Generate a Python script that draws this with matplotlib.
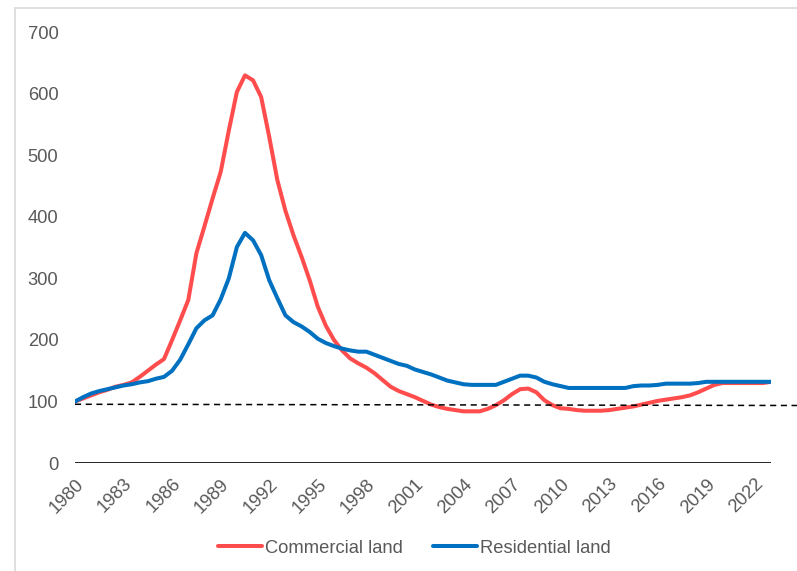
import numpy as np
import matplotlib
matplotlib.use("Agg")
import matplotlib.pyplot as plt
from matplotlib.patches import Rectangle

plt.rcParams['font.family'] = ['Liberation Sans', 'DejaVu Sans']

# half-year index values, 1980 = 100 (two readings per year)
commercial = [
	100, 105,  110, 115,  119, 124,  127, 131,  140, 150,   # 1980-84
	160, 169,  200, 232,  265, 341,  385, 430,  473, 540,   # 1985-89
	603, 630,  622, 595,  530, 460,  410, 370,  335, 297,   # 1990-94
	254, 223,  200, 183,  170, 162,  155, 146,  135, 124,   # 1995-99
	117, 112,  107, 101,   95,  91,   88,  86,   84,  84,   # 2000-04
	 84,  88,   94, 102,  112, 120,  121, 115,  102,  94,   # 2005-09
	 89,  88,   86,  85,   85,  85,   86,  88,   90,  92,   # 2010-14
	 95,  98,  101, 103,  105, 107,  110, 115,  121, 127,   # 2015-19
	130, 130,  130, 130,  130, 130,  132,                   # 2020-23
]
residential = [
	100, 107,  113, 117,  120, 123,  126, 128,  131, 133,
	137, 140,  150, 168,  193, 219,  232, 240,  266, 300,
	351, 374,  362, 338,  297, 268,  240, 229,  222, 213,
	202, 195,  190, 186,  183, 181,  181, 176,  171, 166,
	161, 158,  152, 148,  144, 139,  134, 131,  128, 127,
	127, 127,  127, 132,  137, 142,  142, 139,  132, 128,
	125, 122,  122, 122,  122, 122,  122, 122,  122, 125,
	126, 126,  127, 129,  129, 129,  129, 130,  132, 132,
	132, 132,  132, 132,  132, 132,  132,
]
years = 1980 + 0.5*np.arange(len(commercial))
tick_years = list(range(1980, 2023, 3))
yticks = [0, 100, 200, 300, 400, 500, 600, 700]
ref_level = (95.5, 93.5)  # dashed reference line, left and right ends

RED  = '#FF4D4D'
BLUE = '#0070C0'
GREY = '#595959'
FS = 13.2

fig = plt.figure(figsize=(7.97, 5.71), dpi=100)
ax = fig.add_axes([0.0941, 0.1891, 0.8733, 0.7543])

# light frame round the chart area
fig.patches.append(Rectangle((15/797, -0.05), 1.2, 1 - 8/571 + 0.05,
	transform=fig.transFigure, fill=False, edgecolor='#D9D9D9', linewidth=1.2))

ax.plot(years, commercial, color=RED, linewidth=2.9, label='Commercial land',
	solid_joinstyle='round', solid_capstyle='round')
ax.plot(years, residential, color=BLUE, linewidth=2.9, label='Residential land',
	solid_joinstyle='round', solid_capstyle='round')

ax.plot([1980, 2024.7], list(ref_level), color='black', linewidth=1.1,
	linestyle=(0, (4, 3)), clip_on=False)
ax.axhline(0, color='black', linewidth=1.2)

ax.set_xlim(1980, 2023)
ax.set_ylim(0, 700)
ax.set_yticks(yticks)
ax.set_xticks(tick_years)
ax.set_xticklabels([str(y) for y in tick_years], rotation=45, ha='right',
	rotation_mode='anchor')
ax.tick_params(axis='both', length=0, labelsize=FS, labelcolor=GREY)
ax.tick_params(axis='y', pad=12)
ax.tick_params(axis='x', pad=9)
for s in ax.spines.values():
	s.set_visible(False)

leg = fig.legend(loc='center', bbox_to_anchor=(0.52, 0.04), ncol=2,
	frameon=False, fontsize=FS, handlelength=2.4, handletextpad=0.2,
	columnspacing=1.6)
for t in leg.get_texts():
	t.set_color(GREY)

fig.savefig('out.png', dpi=100)
